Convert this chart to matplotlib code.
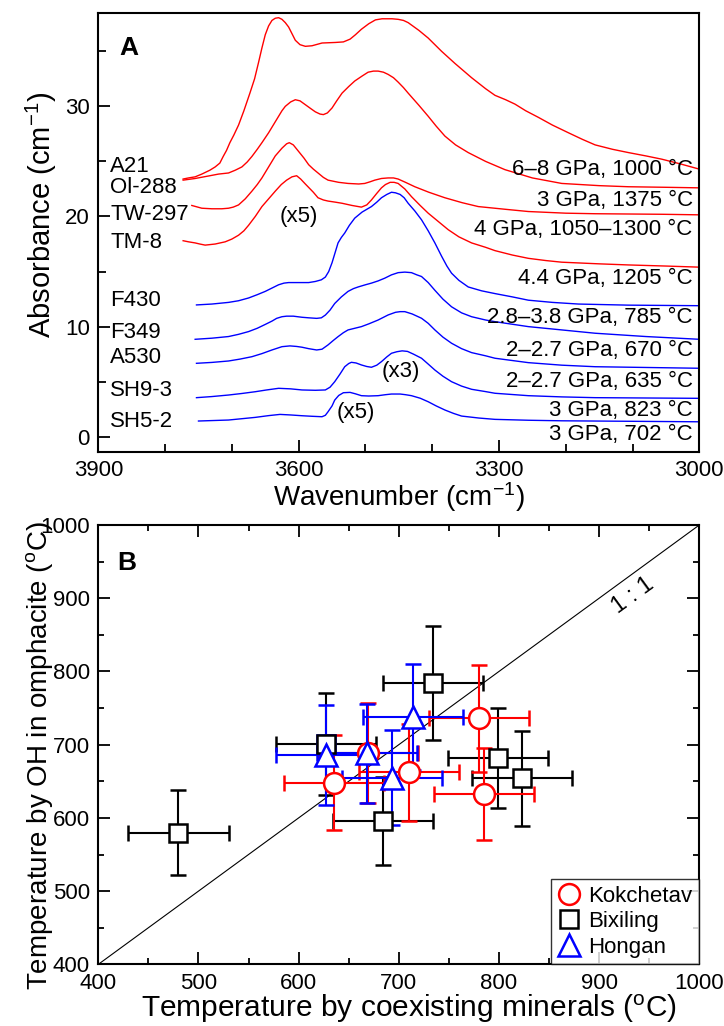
import matplotlib
matplotlib.use('Agg')
import matplotlib.pyplot as plt
from matplotlib.ticker import MultipleLocator
from matplotlib.lines import Line2D

plt.rcParams['font.family'] = ['Liberation Sans', 'DejaVu Sans']
plt.rcParams['mathtext.fontset'] = 'custom'
plt.rcParams['mathtext.rm'] = 'Liberation Sans'
plt.rcParams['mathtext.it'] = 'Liberation Sans:italic'
plt.rcParams['mathtext.bf'] = 'Liberation Sans:bold'
plt.rcParams['mathtext.default'] = 'regular'

# ---------------- Panel A: spectra (wavenumber, absorbance) ----------------
a21_wn = [3773, 3765, 3755, 3745, 3733, 3725, 3718, 3713, 3708, 3703, 3697, 3690, 3682, 3673,
          3666, 3660, 3655, 3650, 3645, 3640, 3635, 3630, 3625, 3620, 3615, 3610, 3605, 3598,
          3590, 3580, 3565, 3545, 3533, 3523, 3515, 3506, 3495, 3485, 3475, 3460, 3451, 3443,
          3436, 3420, 3406, 3386, 3366, 3341, 3320, 3306, 3290, 3276, 3260, 3241, 3220, 3196,
          3175, 3156, 3130, 3106, 3080, 3056, 3030, 3000]
a21_ab = [23.4, 23.5, 23.6, 23.85, 24.2, 24.5, 24.85, 25.45, 26.0, 26.7, 27.4, 28.3, 29.6, 31.2,
          32.5, 34.0, 35.3, 36.5, 37.3, 37.8, 38.0, 38.05, 37.9, 37.6, 37.2, 36.6, 36.0, 35.6,
          35.45, 35.5, 35.75, 35.8, 35.85, 36.1, 36.5, 37.0, 37.5, 37.85, 37.95, 37.95, 37.9, 37.8,
          37.6, 36.9, 36.2, 35.0, 33.9, 32.6, 31.6, 31.0, 30.6, 30.2, 29.6, 29.0, 28.3, 27.6,
          27.0, 26.5, 26.1, 25.8, 25.5, 25.2, 24.8, 24.3]

ol288_wn = [3773, 3755, 3733, 3720, 3705, 3695, 3685, 3677, 3670, 3662, 3655, 3645, 3633, 3625,
            3620, 3612, 3605, 3598, 3590, 3582, 3575, 3568, 3563, 3557, 3550, 3543, 3535, 3525,
            3516, 3505, 3496, 3488, 3481, 3473, 3466, 3458, 3451, 3443, 3436, 3420, 3406, 3394,
            3381, 3365, 3346, 3320, 3291, 3250, 3206, 3150, 3106, 3050, 3000]
ol288_ab = [23.3, 23.45, 23.7, 23.85, 23.95, 24.2, 24.5, 24.95, 25.45, 26.1, 26.7, 27.6, 28.8, 29.6,
            30.0, 30.4, 30.6, 30.5, 30.15, 29.8, 29.5, 29.3, 29.25, 29.4, 29.85, 30.5, 31.2, 31.8,
            32.3, 32.75, 33.1, 33.2, 33.2, 33.1, 32.9, 32.6, 32.2, 31.7, 31.2, 30.1, 29.1, 28.2,
            27.3, 26.5, 25.8, 25.0, 24.25, 23.5, 23.0, 22.8, 22.7, 22.65, 22.6]

tw297_wn = [3760, 3745, 3730, 3715, 3705, 3698, 3690, 3680, 3670, 3662, 3655, 3645, 3635, 3625,
            3618, 3614, 3608, 3600, 3592, 3585, 3578, 3570, 3563, 3556, 3540, 3526, 3510, 3501,
            3493, 3486, 3476, 3466, 3458, 3451, 3440, 3426, 3405, 3381, 3355, 3331, 3290, 3256,
            3200, 3156, 3056, 3000]
tw297_ab = [21.0, 20.75, 20.7, 20.7, 20.75, 20.85, 21.05, 21.6, 22.3, 22.9, 23.5, 24.5, 25.5, 26.2,
            26.6, 26.7, 26.5, 25.9, 25.3, 24.7, 24.3, 23.9, 23.55, 23.3, 23.1, 23.0, 22.95, 23.0,
            23.15, 23.3, 23.45, 23.5, 23.5, 23.4, 23.1, 22.7, 22.2, 21.7, 21.25, 20.9, 20.65, 20.45,
            20.3, 20.25, 20.2, 20.15]

tm8_wn = [3773, 3765, 3755, 3748, 3740, 3725, 3710, 3700, 3690, 3682, 3675, 3665, 3655, 3645,
          3635, 3626, 3618, 3610, 3603, 3597, 3590, 3586, 3578, 3571, 3563, 3556, 3545, 3535,
          3520, 3506, 3498, 3491, 3483, 3476, 3470, 3463, 3457, 3451, 3441, 3431, 3418, 3406,
          3390, 3376, 3360, 3341, 3320, 3306, 3280, 3256, 3230, 3206, 3150, 3106, 3050, 3000]
tm8_ab = [17.8, 17.7, 17.6, 17.5, 17.4, 17.5, 17.7, 17.95, 18.3, 18.7, 19.2, 20.0, 20.9, 21.6,
          22.3, 22.9, 23.3, 23.6, 23.7, 23.4, 22.95, 22.7, 22.2, 21.7, 21.5, 21.4, 21.3, 21.2,
          21.0, 20.85, 21.05, 21.5, 22.1, 22.6, 22.9, 23.1, 23.1, 23.0, 22.5, 21.8, 21.0, 20.3,
          19.5, 18.8, 18.15, 17.6, 17.2, 16.9, 16.5, 16.2, 16.0, 15.85, 15.7, 15.6, 15.5, 15.4]

f430_wn = [3753, 3730, 3705, 3690, 3675, 3662, 3650, 3640, 3630, 3622, 3615, 3605, 3595, 3585,
           3575, 3566, 3560, 3555, 3550, 3545, 3541, 3536, 3531, 3524, 3516, 3505, 3491, 3483,
           3476, 3468, 3461, 3455, 3448, 3442, 3436, 3426, 3416, 3406, 3396, 3386, 3378, 3371,
           3360, 3346, 3326, 3306, 3280, 3256, 3220, 3181, 3106, 3000]
f430_ab = [11.97, 12.05, 12.2, 12.35, 12.6, 12.9, 13.2, 13.5, 13.8, 13.95, 14.0, 14.0, 14.0, 14.0,
           14.1, 14.25, 14.5, 15.0, 15.8, 16.8, 17.6, 18.1, 18.5, 19.2, 19.85, 20.4, 20.9, 21.3,
           21.7, 22.0, 22.2, 22.15, 22.0, 21.7, 21.2, 20.5, 19.7, 18.7, 17.6, 16.4, 15.5, 14.85,
           14.2, 13.6, 13.25, 13.0, 12.7, 12.4, 12.2, 12.05, 11.95, 11.9]

f349_wn = [3755, 3730, 3705, 3690, 3675, 3662, 3650, 3640, 3633, 3625, 3618, 3608, 3595, 3585,
           3573, 3566, 3560, 3553, 3546, 3536, 3526, 3518, 3511, 3500, 3491, 3481, 3471, 3461,
           3451, 3441, 3431, 3423, 3416, 3406, 3396, 3384, 3371, 3356, 3341, 3320, 3306, 3256,
           3206, 3156, 3080, 3000]
f349_ab = [8.85, 8.95, 9.1, 9.3, 9.55, 9.85, 10.2, 10.5, 10.75, 10.9, 10.95, 10.95, 10.85, 10.8,
           10.75, 10.8, 11.05, 11.5, 12.1, 12.7, 13.2, 13.45, 13.6, 13.8, 13.95, 14.15, 14.4, 14.7,
           14.9, 14.95, 14.9, 14.7, 14.55, 14.0, 13.3, 12.5, 11.8, 11.25, 10.9, 10.6, 10.45, 10.0,
           9.7, 9.4, 9.1, 8.85]

a530_wn = [3753, 3730, 3705, 3688, 3670, 3655, 3640, 3625, 3613, 3603, 3595, 3585, 3573, 3565,
           3556, 3548, 3541, 3533, 3526, 3516, 3506, 3495, 3481, 3466, 3455, 3448, 3441, 3430,
           3416, 3406, 3396, 3384, 3371, 3356, 3341, 3320, 3306, 3256, 3206, 3156, 3000]
a530_ab = [6.67, 6.75, 6.88, 7.05, 7.27, 7.55, 7.88, 8.18, 8.25, 8.2, 8.13, 8.0, 7.88, 7.95,
           8.34, 8.75, 9.09, 9.45, 9.7, 9.85, 10.0, 10.25, 10.6, 11.06, 11.3, 11.36, 11.36, 11.15,
           10.76, 10.3, 9.7, 9.05, 8.49, 8.0, 7.64, 7.35, 7.13, 6.73, 6.5, 6.36, 6.22]

sh93_wn = [3753, 3730, 3705, 3685, 3665, 3648, 3630, 3612, 3595, 3575, 3560, 3553, 3546, 3538,
           3531, 3525, 3521, 3514, 3506, 3498, 3491, 3483, 3476, 3468, 3461, 3453, 3445, 3437,
           3428, 3416, 3406, 3396, 3384, 3371, 3356, 3341, 3320, 3306, 3256, 3206, 3156, 3000]
sh93_ab = [3.55, 3.65, 3.79, 3.93, 4.09, 4.25, 4.4, 4.35, 4.25, 4.22, 4.25, 4.5, 5.0, 5.7,
           6.36, 6.65, 6.76, 6.7, 6.52, 6.38, 6.31, 6.5, 6.82, 7.25, 7.58, 7.72, 7.8, 7.75,
           7.5, 7.13, 6.6, 6.06, 5.5, 5.0, 4.6, 4.31, 4.1, 3.95, 3.73, 3.62, 3.55, 3.49]

sh52_wn = [3750, 3705, 3665, 3645, 3628, 3612, 3595, 3580, 3565, 3560, 3556, 3550, 3546, 3540,
           3533, 3523, 3515, 3506, 3495, 3481, 3470, 3461, 3448, 3440, 3431, 3418, 3406, 3394,
           3381, 3368, 3356, 3330, 3306, 3256, 3206, 3000]
sh52_ab = [1.43, 1.52, 1.76, 1.92, 2.03, 1.98, 1.91, 1.86, 1.82, 1.95, 2.27, 2.8, 3.33, 3.75,
           4.0, 4.03, 3.9, 3.73, 3.7, 3.73, 3.82, 3.88, 3.88, 3.82, 3.73, 3.5, 3.18, 2.8,
           2.43, 2.12, 1.88, 1.7, 1.58, 1.5, 1.45, 1.36]

sample_names = ['A21', 'Ol-288', 'TW-297', 'TM-8', 'F430', 'F349', 'A530', 'SH9-3', 'SH5-2']
conditions = ['6\u20138 GPa, 1000 \u00b0C', '3 GPa, 1375 \u00b0C', '4 GPa, 1050\u20131300 \u00b0C',
              '4.4 GPa, 1205 \u00b0C', '2.8\u20133.8 GPa, 785 \u00b0C', '2\u20132.7 GPa, 670 \u00b0C',
              '2\u20132.7 GPa, 635 \u00b0C', '3 GPa, 823 \u00b0C', '3 GPa, 702 \u00b0C']

# ---------------- Panel B: temperatures ----------------
kok_x = [635, 669, 710, 780, 785]
kok_y = [648, 689, 662, 736, 633]
kok_xerr = [50, 50, 50, 50, 50]
kok_yerr = [65, 68, 66, 73, 63]

bix_x = [480, 627, 684, 734, 799, 823]
bix_y = [580, 701, 596, 784, 682, 654]
bix_xerr = [50, 50, 50, 50, 50, 50]
bix_yerr = [58, 70, 60, 78, 68, 65]

hon_x = [627, 668, 693, 714]
hon_y = [686, 688, 655, 738]
hon_xerr = [50, 50, 50, 50]
hon_yerr = [68, 68, 65, 72]

hon_sq_x = [627]
hon_sq_y = [701]

FS = 16
fig = plt.figure(figsize=(7.24, 10.26), dpi=100)
axA = fig.add_axes([0.1358, 0.5597, 0.8301, 0.4279])
axB = fig.add_axes([0.1358, 0.0601, 0.8301, 0.4282])

red = '#ff0000'
blue = '#0000ff'
spectra = [(a21_wn, a21_ab, red), (ol288_wn, ol288_ab, red), (tw297_wn, tw297_ab, red),
           (tm8_wn, tm8_ab, red), (f430_wn, f430_ab, blue), (f349_wn, f349_ab, blue),
           (a530_wn, a530_ab, blue), (sh93_wn, sh93_ab, blue), (sh52_wn, sh52_ab, blue)]
for wn, ab, c in spectra:
    axA.plot(wn, ab, color=c, lw=1.0)

axA.set_xlim(3900, 3000)
axA.set_ylim(-1.36, 38.5)
axA.xaxis.set_major_locator(MultipleLocator(300))
axA.xaxis.set_minor_locator(MultipleLocator(100))
axA.yaxis.set_major_locator(MultipleLocator(10))
axA.yaxis.set_minor_locator(MultipleLocator(5))
axA.tick_params(which='both', direction='in', top=False, right=False, labelsize=FS, width=1.3)
axA.tick_params(which='major', length=8.5, pad=6)
axA.tick_params(which='minor', length=5.5)
for s in axA.spines.values():
    s.set_linewidth(1.5)
axA.set_xlabel('Wavenumber (cm$^{-1}$)', fontsize=20)
axA.set_ylabel('Absorbance (cm$^{-1}$)', fontsize=21)
axA.xaxis.set_label_coords(0.5, -0.064)
axA.yaxis.set_label_coords(-0.066, 0.54)

left_y = [24.55, 22.6, 20.15, 17.6, 12.4, 9.45, 7.2, 4.2, 1.43]
right_y = [24.3, 21.45, 18.8, 14.4, 10.85, 7.8, 5.0, 2.43, 0.25]
for name, yv in zip(sample_names, left_y):
    axA.text(3882, yv, name, fontsize=16, ha='left', va='center')
for cond, yv in zip(conditions, right_y):
    axA.text(3010, yv, cond, fontsize=FS, ha='right', va='center')
axA.text(3600, 20.0, '(x5)', fontsize=FS, ha='center', va='center')
axA.text(3447, 5.9, '(x3)', fontsize=FS, ha='center', va='center')
axA.text(3514, 2.2, '(x5)', fontsize=FS, ha='center', va='center')
axA.text(3855, 35.3, 'A', fontsize=19, fontweight='bold', ha='center', va='center')

# ---------------- Panel B ----------------
axB.plot([400, 1000], [400, 1000], color='black', lw=0.8)
ms_kw = dict(mfc='white', mew=1.8, elinewidth=1.5, capsize=6, capthick=1.5, ls='none')
axB.errorbar(bix_x, bix_y, xerr=bix_xerr, yerr=bix_yerr, fmt='s', ms=13, color='black',
             mec='black', **ms_kw)
axB.errorbar(kok_x, kok_y, xerr=kok_xerr, yerr=kok_yerr, fmt='o', ms=15, color=red,
             mec=red, **ms_kw)
axB.errorbar(hon_x, hon_y, xerr=hon_xerr, yerr=hon_yerr, fmt='^', ms=16, color=blue,
             mec=blue, **ms_kw)
axB.plot(hon_sq_x, hon_sq_y, 's', ms=13, mfc='none', mec=blue, mew=1.8)

axB.set_xlim(400, 1000)
axB.set_ylim(400, 1000)
axB.xaxis.set_major_locator(MultipleLocator(100))
axB.xaxis.set_minor_locator(MultipleLocator(50))
axB.yaxis.set_major_locator(MultipleLocator(100))
axB.yaxis.set_minor_locator(MultipleLocator(50))
axB.tick_params(which='both', direction='in', top=True, right=True, labelsize=FS, width=1.3)
axB.tick_params(which='major', length=8.5, pad=6)
axB.tick_params(which='minor', length=4)
for s in axB.spines.values():
    s.set_linewidth(1.5)
axB.set_xlabel('Temperature by coexisting minerals ($^{o}$C)', fontsize=21.5)
axB.set_ylabel('Temperature by OH in omphacite ($^{o}$C)', fontsize=20)
axB.xaxis.set_label_coords(0.517, -0.064)
axB.yaxis.set_label_coords(-0.072, 0.474)
axB.text(428, 948, 'B', fontsize=19, fontweight='bold', ha='center', va='center')
axB.text(934, 904, '1 : 1', fontsize=17, ha='center', va='center', rotation=36.1,
         rotation_mode='anchor')

handles = [Line2D([], [], marker='o', ls='none', ms=15, mfc='white', mec=red, mew=1.8),
           Line2D([], [], marker='s', ls='none', ms=13, mfc='white', mec='black', mew=1.8),
           Line2D([], [], marker='^', ls='none', ms=16, mfc='white', mec=blue, mew=1.8)]
leg = axB.legend(handles, ['Kokchetav', 'Bixiling', 'Hongan'], loc='lower right',
                 fontsize=FS, frameon=True, fancybox=False, borderaxespad=0.0,
                 handlelength=1.0, handletextpad=0.4, labelspacing=0.2, borderpad=0.3)
leg.get_frame().set_edgecolor('black')
leg.get_frame().set_linewidth(1.0)

fig.savefig('out.png', dpi=100)
